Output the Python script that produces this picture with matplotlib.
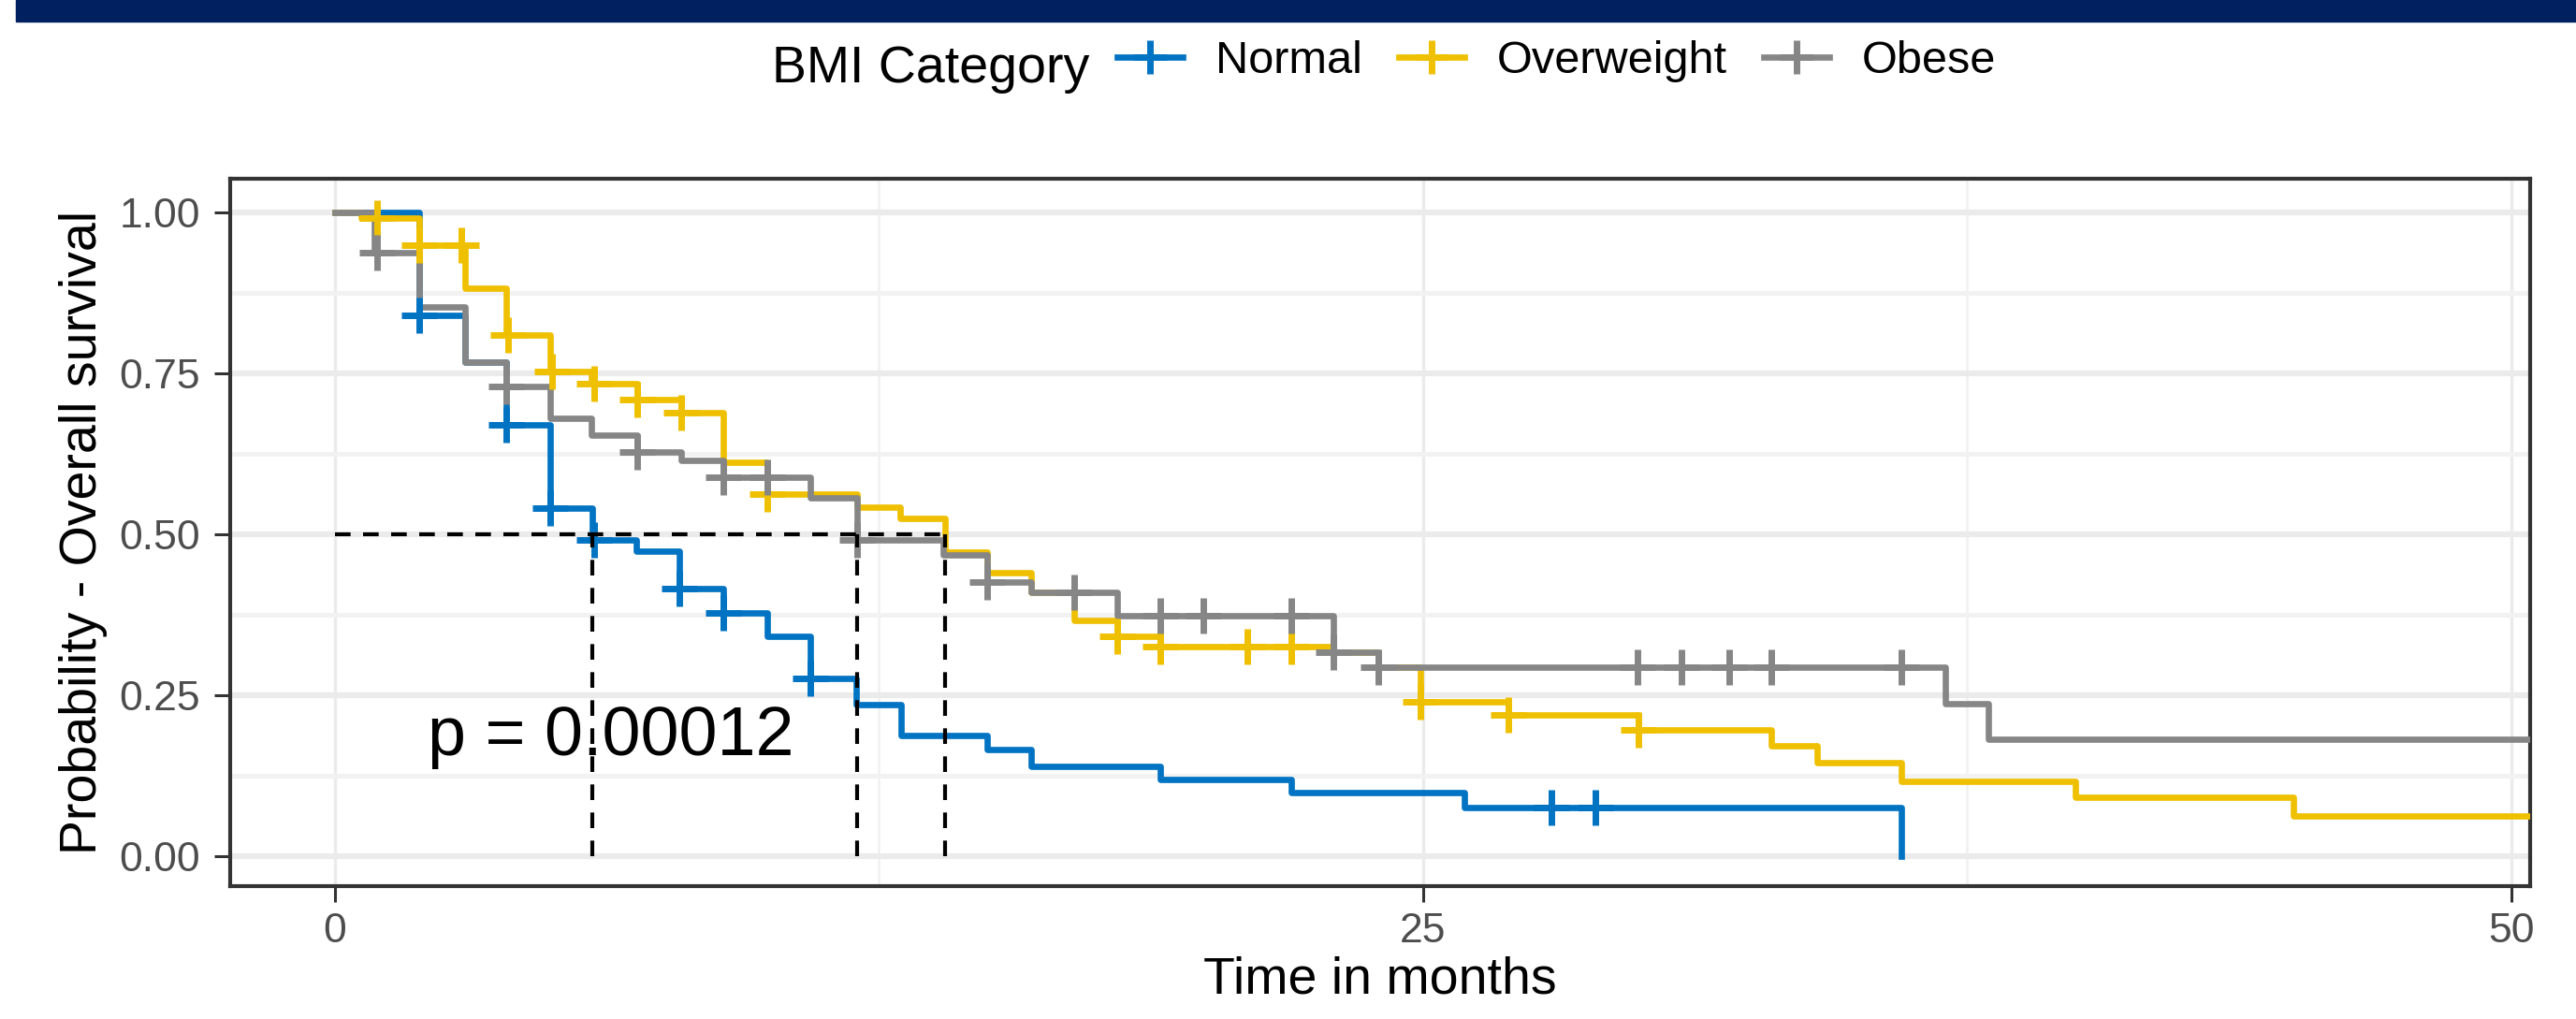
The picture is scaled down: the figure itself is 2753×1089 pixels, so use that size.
import numpy as np
import matplotlib
matplotlib.use("Agg")
import matplotlib.pyplot as plt
from matplotlib.lines import Line2D
from matplotlib.patches import Rectangle
from matplotlib.ticker import FixedLocator

plt.rcParams['font.family'] = ['Liberation Sans', 'DejaVu Sans']

# Kaplan-Meier steps (months, survival probability)
normal_t = [0, 1.94, 2.98, 3.94, 4.95, 5.92, 6.92, 7.92, 8.92, 9.93, 10.93,
            11.97, 13.0, 14.98, 16.0, 18.96, 21.97, 25.95, 36.0]
normal_s = [1.0, 0.840, 0.767, 0.670, 0.540, 0.491, 0.474, 0.416, 0.378, 0.341,
            0.276, 0.235, 0.187, 0.165, 0.140, 0.119, 0.099, 0.075, 0.0]
normal_cens = [1.94, 3.94, 4.95, 5.95, 7.92, 8.92, 10.93, 27.95, 28.96]

over_t = [0, 0.6, 1.94, 2.98, 3.94, 4.95, 5.90, 6.95, 7.96, 8.93, 9.93, 12.0,
          12.98, 14.02, 14.98, 16.0, 16.99, 17.98, 18.96, 22.94, 23.97, 24.94,
          26.96, 29.94, 33.0, 34.05, 36.0, 40.0, 45.0, 52.0]
over_s = [1.0, 0.99, 0.949, 0.881, 0.809, 0.753, 0.733, 0.709, 0.688, 0.612,
          0.562, 0.542, 0.525, 0.472, 0.440, 0.409, 0.366, 0.341, 0.326, 0.317,
          0.293, 0.240, 0.219, 0.196, 0.171, 0.145, 0.116, 0.092, 0.063, 0.063]
over_cens = [0.96, 1.94, 2.90, 3.98, 4.98, 5.95, 6.95, 7.96, 9.93, 17.98,
             18.96, 20.96, 21.97, 24.94, 26.96, 29.94]

obese_t = [0, 0.90, 1.94, 2.98, 3.94, 4.95, 5.90, 6.95, 7.96, 8.93, 10.93,
           12.0, 13.98, 14.98, 16.0, 17.98, 22.94, 23.97, 37.0, 38.0, 52.0]
obese_s = [1.0, 0.937, 0.852, 0.767, 0.729, 0.680, 0.654, 0.627, 0.615, 0.588,
           0.557, 0.491, 0.467, 0.426, 0.409, 0.373, 0.317, 0.293, 0.237,
           0.182, 0.182]
obese_cens = [0.96, 3.94, 6.95, 8.93, 9.93, 12.0, 14.98, 16.99, 18.96, 19.96,
              21.97, 22.94, 23.97, 29.93, 30.94, 32.04, 33.0, 36.0]

groups = ["Normal", "Overweight", "Obese"]
colors = ["#0073C2", "#EFC000", "#868686"]
x_ticks = [0, 25, 50]
y_ticks = [0.0, 0.25, 0.5, 0.75, 1.0]
pval_text = "p = 0.00012"

W, H = 2753, 1089
fig = plt.figure(figsize=(W / 100, H / 100), dpi=100)
fig.patch.set_facecolor("white")

# navy banner at the top (slide header, cut off)
fig.patches.append(Rectangle((17 / W, 1 - 23 / H), 1, 23 / H,
                             transform=fig.transFigure, color="#002060", zorder=0))

ax = fig.add_axes([246 / W, 1 - 947 / H, (2704 - 246) / W, (947 - 191) / H])
ax.set_xlim(-2.41, 50.44)
ax.set_ylim(-0.0465, 1.0516)

# grid like theme_bw
ax.xaxis.set_major_locator(FixedLocator(x_ticks))
ax.yaxis.set_major_locator(FixedLocator(y_ticks))
ax.xaxis.set_minor_locator(FixedLocator([12.5, 37.5]))
ax.yaxis.set_minor_locator(FixedLocator([0.125, 0.375, 0.625, 0.875]))
ax.grid(True, which="major", axis="y", color="#EBEBEB", lw=4.5, zorder=0)
ax.grid(True, which="minor", axis="y", color="#F2F2F2", lw=3.5, zorder=0)
ax.grid(True, which="major", axis="x", color="#EBEBEB", lw=2.5, zorder=0)
ax.grid(True, which="minor", axis="x", color="#F2F2F2", lw=2.0, zorder=0)
ax.set_axisbelow(True)

data = [(normal_t, normal_s, normal_cens),
        (over_t, over_s, over_cens),
        (obese_t, obese_s, obese_cens)]

handles = []
for (t, s, c), col, name in zip(data, colors, groups):
    ax.step(t, s, where="post", color=col, lw=4.8, zorder=3)
    handles.append(Line2D([], [], color=col, lw=4.8, marker="+", ms=26, mew=5))

for (t, s, c), col in zip(data, colors):
    ts = np.array(t)
    ss = np.array(s)
    idx = np.searchsorted(ts, c, side="right") - 1
    ax.plot(c, ss[idx], ls="none", marker="+", ms=27, mew=5, color=col, zorder=4)

# median survival lines
medians = []
for t, s, c in data:
    i = next(k for k, v in enumerate(s) if v <= 0.5)
    medians.append(t[i])
dash = (0, (4, 3.2))
ax.plot([0, max(medians)], [0.5, 0.5], color="black", lw=3, ls=dash, zorder=6)
for m in medians:
    ax.plot([m, m], [0, 0.5], color="black", lw=3, ls=dash, zorder=6)

ax.text(2.12, 0.157, pval_text, fontsize=53, color="black", ha="left",
        va="baseline", zorder=5)

for sp in ax.spines.values():
    sp.set_color("#333333")
    sp.set_linewidth(3)

ax.tick_params(axis="both", which="major", length=12, width=2.2, color="#333333",
               labelcolor="#4D4D4D", labelsize=32)
ax.tick_params(axis="y", pad=11)
ax.tick_params(axis="x", pad=8)
ax.tick_params(which="minor", length=0)
ax.set_xticklabels([str(v) for v in x_ticks])
ax.set_yticklabels(["%.2f" % v for v in y_ticks])

ax.set_xlabel("Time in months", fontsize=40, color="black", labelpad=4)
ax.set_ylabel("Probability - Overall survival", fontsize=40, color="black", labelpad=9)

# legend on top: title at left, then the three strata
fig.text(825 / W, 1 - 88 / H, "BMI Category", fontsize=40, color="black",
         ha="left", va="baseline")
fig.legend(handles, groups, ncol=3, loc="center left",
           bbox_to_anchor=(1194 / W, 1 - 66 / H), frameon=False, fontsize=35,
           handlelength=1.44, handletextpad=0.72, columnspacing=0.8,
           borderpad=0, borderaxespad=0, numpoints=1)

fig.savefig("out.png", dpi=100)
